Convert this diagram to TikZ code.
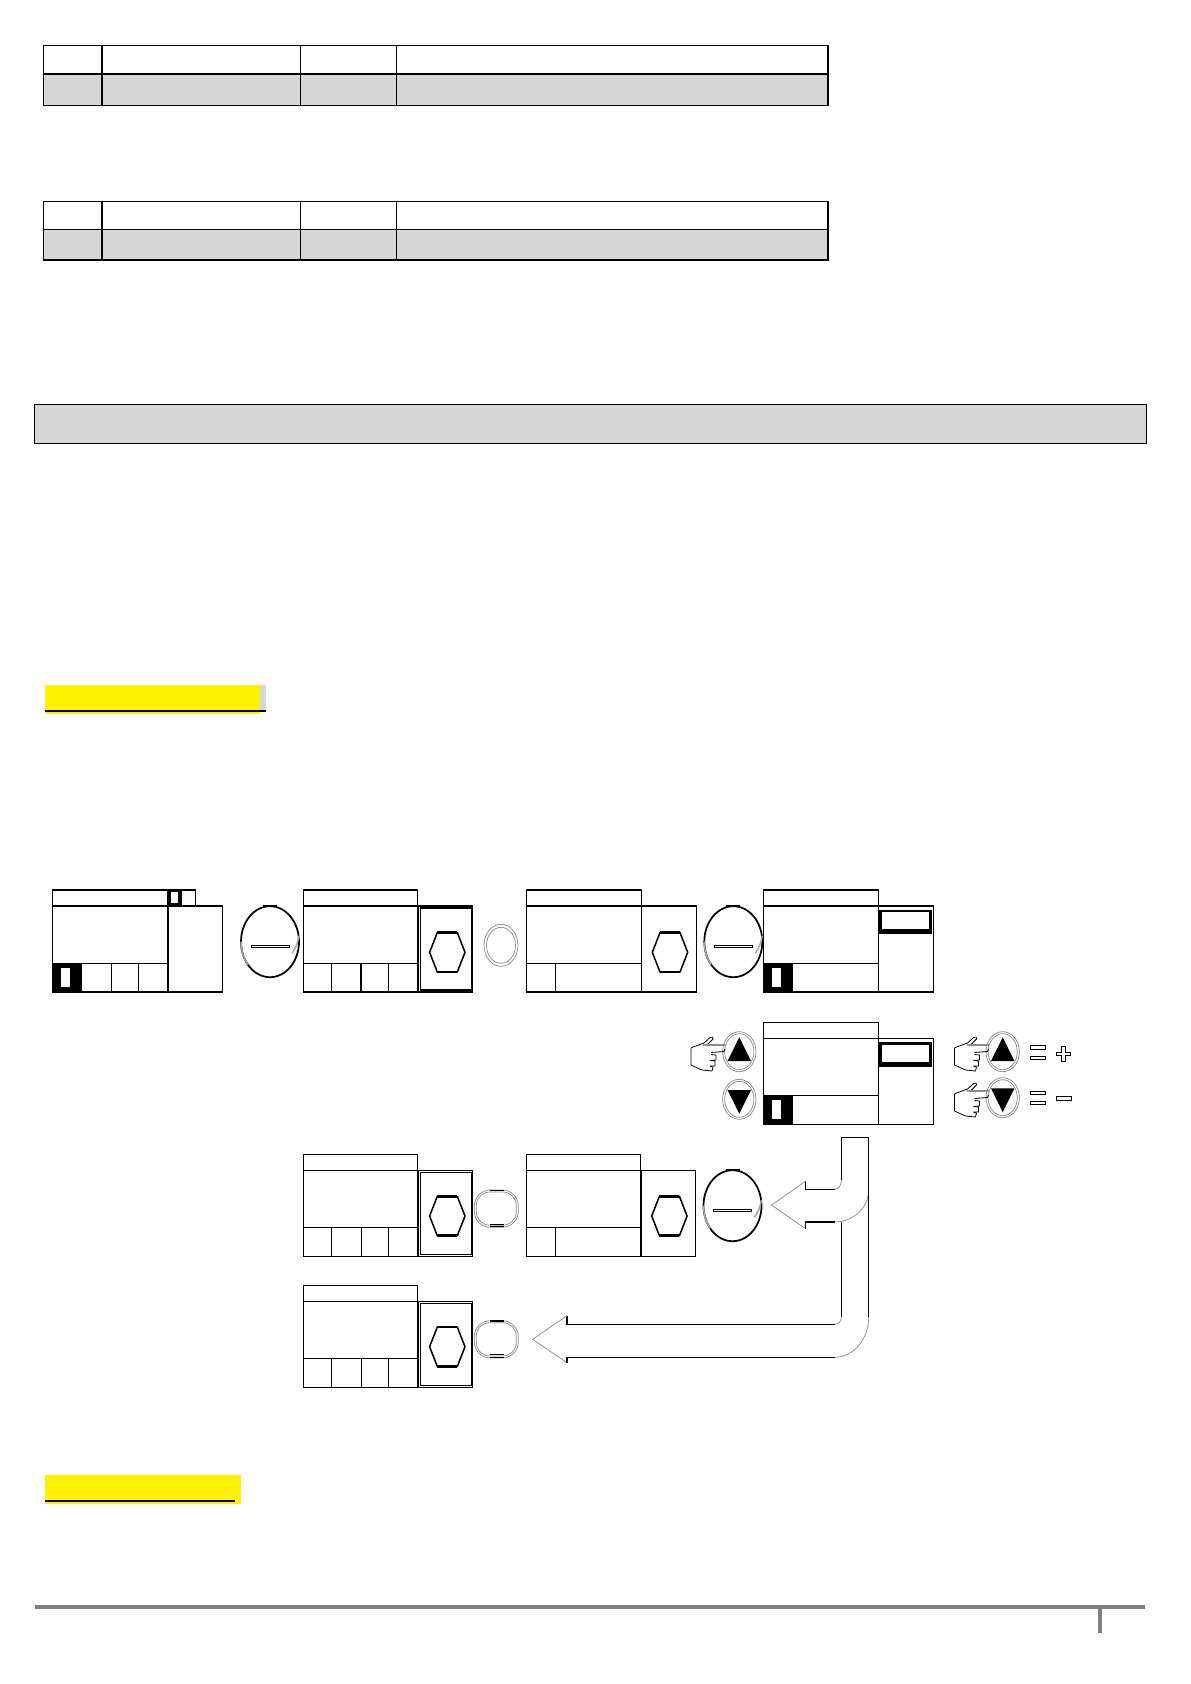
\documentclass[tikz,border=0pt]{standalone}
\tikzset{
  x=0.75pt,y=-0.75pt,
  ln/.style={draw=black,line width=0.85pt,line join=miter},
  thin ln/.style={draw=black,line width=0.6pt},
  grayln/.style={draw=black!45,line width=0.55pt},
  tbl/.style={draw=black,line width=1.0pt},
  bar/.style={fill=black!16,draw=none},
  solid black/.style={fill=black,draw=none},
  blank/.style={fill=white,draw=none},
  heavy/.style={draw=black,line width=1.9pt,line cap=butt},
}
% table at vertical positions top, mid, bottom
\newcommand{\tablerow}[3]{%
  \fill[bar] (43.5,#2) rectangle (828,#3);
  \draw[tbl] (43.5,#1) rectangle (828,#3);
  \draw[tbl] (43.5,#2) -- (828,#2);
  \foreach \cx in {102,300.5,396.5} \draw[tbl] (\cx,#1) -- (\cx,#3);
}
% screen: left x, right x, top y (everything measured from top)
\newcommand{\screenbox}[3]{%
  \draw[ln] (#1,#3) rectangle (#2,#3+16);
  \draw[ln] (#1,#3+16) rectangle (#2,#3+102);
  \draw[ln] (#1,#3+73.3) -- (#2,#3+73.3);
}
\newcommand{\cellsfour}[2]{%
  \foreach \cx in {28,57.7,85} \draw[ln] (#1+\cx,#2+73.3) -- (#1+\cx,#2+102);
}
\newcommand{\cellone}[2]{%
  \draw[ln] (#1+29,#2+73.3) -- (#1+29,#2+102);
}
\newcommand{\blackcell}[2]{%
  \fill[solid black] (#1,#2+73.3) rectangle (#1+29.4,#2+102.6);
  \fill[blank] (#1+8.7,#2+77.5) rectangle (#1+18,#2+97);
}
\newcommand{\sidebox}[3]{%
  \draw[ln] (#1,#3+16) rectangle (#2,#3+102);
  \draw[black,line width=1.2pt] (#1,#3+16) -- (#1,#3+102);
}
\newcommand{\doublebox}[2]{%
  \draw[ln] (#1,#2+16) rectangle (#1+54,#2+102);
  \draw[black,line width=1.15pt] (#1+1.7,#2+18) rectangle (#1+53,#2+100);
}
\newcommand{\hexa}[2]{%
  \draw[black,line width=1.15pt,line join=round] (#1-17.7,#2) -- (#1-10,#2-19.7) -- (#1+10,#2-19.7) -- (#1+17.7,#2) -- (#1+10,#2+19.7) -- (#1-10,#2+19.7) -- cycle;
  \draw[heavy] (#1-10,#2-19.7) -- (#1+10,#2-19.7);
  \draw[heavy] (#1-10,#2+19.7) -- (#1+10,#2+19.7);
}
\newcommand{\bigoval}[2]{%
  \draw[black,line width=1.3pt] (#1,#2) ellipse [x radius=29,y radius=35.5];
  \draw[black!35,line width=1.1pt] (#1-29,#2) arc [start angle=180,end angle=140,x radius=29,y radius=35.5];
  \draw[black!35,line width=1.1pt] (#1+29,#2-6) arc [start angle=10,end angle=42,x radius=29,y radius=35.5];
  \draw[black,line width=1.9pt] (#1-7,#2-35.5) -- (#1+7,#2-35.5);
  \draw[thin ln] (#1-19,#2+3.3) rectangle (#1+19,#2+6);
}
\newcommand{\ringoval}[2]{%
  \draw[grayln] (#1,#2) ellipse [x radius=17,y radius=21];
  \draw[grayln] (#1,#2) ellipse [x radius=14.5,y radius=18];
}
\newcommand{\roundring}[2]{%
  \draw[grayln,rounded corners=12pt] (#1-22,#2-18.6) rectangle (#1+22,#2+18.6);
  \draw[grayln,rounded corners=10pt] (#1-20,#2-16.6) rectangle (#1+20,#2+16.6);
  \draw[black,line width=1.3pt] (#1-6.7,#2-18) -- (#1+7.3,#2-18);
  \draw[black,line width=0.6pt] (#1-6.7,#2+17.6) -- (#1+7.3,#2+17.6);
  \draw[black,line width=0.6pt] (#1-6.7,#2+15.4) -- (#1+7.3,#2+15.4);
}
\newcommand{\upbtn}[2]{%
  \draw[grayln] (#1,#2) ellipse [x radius=16.7,y radius=20];
  \draw[grayln] (#1,#2) ellipse [x radius=14.6,y radius=18];
  \fill[solid black] (#1,#2-14.4) -- (#1+11.7,#2+9.3) -- (#1-11.7,#2+9.3) -- cycle;
}
\newcommand{\downbtn}[2]{%
  \draw[grayln] (#1,#2) ellipse [x radius=16.7,y radius=20];
  \draw[grayln] (#1,#2) ellipse [x radius=14.6,y radius=18];
  \fill[solid black] (#1,#2+14.4) -- (#1+11.7,#2-9.3) -- (#1-11.7,#2-9.3) -- cycle;
}
% hand: tip of index finger at (#1,#2)
\newcommand{\handicon}[2]{%
  \draw[thin ln,line join=round] (#1-22,#2-1) -- (#1-18,#2-1) -- (#1-12,#2-7) .. controls (#1-11,#2-9) and (#1-13,#2-9.5) .. (#1-15,#2-8.5) -- (#1-21,#2-3) -- (#1-32,#2+1) -- (#1-34,#2+2) -- (#1-34,#2+19) -- (#1-23,#2+24) -- (#1-13,#2+25) -- (#1-12,#2+21) -- (#1-15,#2+20);
  \draw[thin ln] (#1-15,#2+20) -- (#1-10,#2+20) -- (#1-10,#2+15) -- (#1-15,#2+14.5);
  \draw[thin ln] (#1-15,#2+14.5) -- (#1-9,#2+14) -- (#1-9,#2+9) -- (#1-14,#2+8.5);
  \draw[thin ln] (#1-14,#2+6.5) -- (#1-1,#2+5.5) -- (#1,#2+3);
  \draw[grayln,line width=0.8pt] (#1-20,#2-1) -- (#1,#2-1);
}
\newcommand{\eqmark}[2]{%
  \draw[thin ln] (#1,#2) rectangle (#1+15.4,#2+3.3);
  \draw[thin ln] (#1,#2+10.4) rectangle (#1+15.4,#2+13.7);
}
\begin{document}
\begin{tikzpicture}
\useasboundingbox (0,0) rectangle (1190,1684);
\fill[white] (0,0) rectangle (1190,1684);

% tables
\tablerow{45.5}{74}{105.5}
\tablerow{201.5}{229.5}{260}

% section bar
\fill[bar] (34.5,404.5) rectangle (1146,443.5);
\draw[black,line width=0.75pt] (34.5,404.5) rectangle (1146,443.5);

% yellow headings
\fill[black!16] (258,684.7) rectangle (266,711);
\fill[yellow] (45,684.7) rectangle (260,714);
\draw[black,line width=1.5pt] (45,711) -- (266,711);
\fill[yellow] (45,1475) rectangle (241,1504);
\draw[black,line width=1.5pt] (45,1500.7) -- (235,1500.7);

% first row
\screenbox{52.3}{167.7}{890}
\draw[ln] (167.7,890) rectangle (195.7,906);
\cellsfour{53.7}{890}
\blackcell{52.3}{890}
\fill[solid black] (167.5,889.5) rectangle (182,906);
\fill[blank] (171.3,892) rectangle (177.7,903);
\sidebox{167.7}{222.3}{890}
\bigoval{270}{941.7}

\screenbox{303.3}{417.3}{890}
\cellsfour{303.3}{890}
\doublebox{418.7}{890}
\hexa{447.3}{952.3}
\ringoval{501}{945.3}

\screenbox{526.3}{641.3}{890}
\cellone{526.3}{890}
\sidebox{641.3}{696.7}{890}
\hexa{670}{952.3}
\bigoval{733.3}{941.7}

\screenbox{763.3}{878.3}{890}
\blackcell{763.3}{890}
\sidebox{878.3}{933.3}{890}
\fill[solid black] (879.3,910) rectangle (931.7,934.3);
\fill[blank] (881.7,912) rectangle (929.3,929.3);

% second row
\upbtn{739.3}{1051.7}
\downbtn{739.3}{1099.3}
\handicon{725}{1046}
\screenbox{763.3}{878.3}{1022.3}
\blackcell{763.3}{1022.3}
\sidebox{878.3}{933.3}{1022.3}
\fill[solid black] (879.3,1042.3) rectangle (931.7,1066.7);
\fill[blank] (881.7,1044.5) rectangle (929.3,1061.5);
\upbtn{1002.7}{1051.7}
\downbtn{1002.7}{1097.7}
\handicon{988.5}{1046}
\handicon{988.5}{1092}
\eqmark{1030.3}{1045.7}
\eqmark{1030.3}{1091}
\draw[thin ln] (1061,1046.7) -- (1065.6,1046.7) -- (1065.6,1052.8) -- (1070.6,1052.8) -- (1070.6,1055.2) -- (1065.6,1055.2) -- (1065.6,1061.3) -- (1061,1061.3) -- (1061,1055.2) -- (1056,1055.2) -- (1056,1052.8) -- (1061,1052.8) -- cycle;
\draw[thin ln] (1056,1096) rectangle (1071,1100.7);

% third row
\screenbox{303.4}{417.2}{1154.3}
\cellsfour{303.4}{1154.3}
\doublebox{418.7}{1154.3}
\hexa{447.3}{1216}
\roundring{496.3}{1208.6}

\screenbox{526.2}{640.8}{1154.3}
\cellone{526.2}{1154.3}
\sidebox{640.8}{695.8}{1154.3}
\hexa{669.4}{1216}
\bigoval{732.5}{1205.7}

% fourth row
\screenbox{303.4}{417.2}{1285.3}
\cellsfour{303.4}{1285.3}
\doublebox{418.7}{1285.3}
\hexa{447.3}{1346.7}
\roundring{496.3}{1339.3}

% curved arrows
\draw[ln] (841.4,1180) -- (841.4,1137.3) -- (868.7,1137.3) -- (868.7,1190);
\draw[grayln] (841.4,1180) .. controls (841.4,1185) and (839,1189.3) .. (834.5,1189.3);
\draw[ln] (834.5,1189.3) -- (805.5,1189.3) -- (805.5,1181.3);
\draw[grayln] (805.5,1181.3) -- (771.5,1205) -- (805.5,1228.7);
\draw[ln] (805.5,1228.7) -- (805.5,1222) -- (834.5,1222);
\draw[grayln] (868.7,1190) .. controls (868.7,1208) and (853,1222) .. (834.5,1222);
\draw[ln] (841.4,1222) -- (841.4,1316.7);
\draw[grayln] (841.4,1316.7) .. controls (841.4,1321) and (839,1324.3) .. (834.5,1324.3);
\draw[ln] (834.5,1324.3) -- (567,1324.3) -- (567,1315.7);
\draw[grayln] (567,1315.7) -- (532.6,1339.3) -- (567,1362.7);
\draw[ln] (567,1362.7) -- (567,1357.3) -- (834.5,1357.3);
\draw[grayln] (834.5,1357.3) .. controls (853,1357.3) and (868.7,1340) .. (868.7,1316.7);
\draw[ln] (868.7,1316.7) -- (868.7,1190);

% footer
\draw[black!50,line width=3pt] (34.5,1606.7) -- (1145,1606.7);
\draw[black!50,line width=2.6pt] (1100,1606.7) -- (1100,1632.7);
\end{tikzpicture}
\end{document}
